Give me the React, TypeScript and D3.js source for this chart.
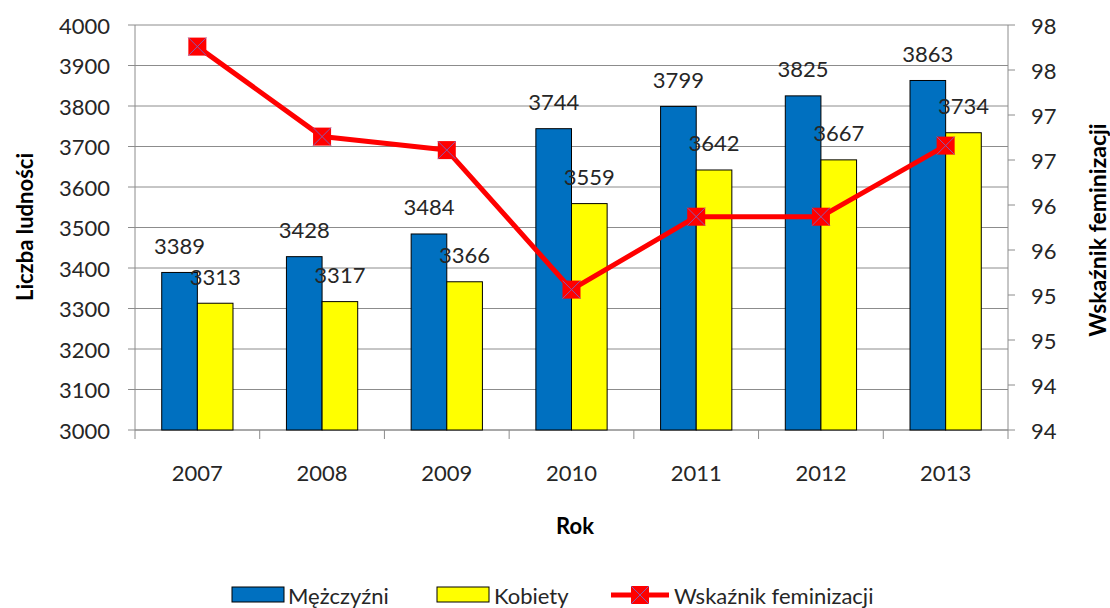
import React from 'react';
import * as d3 from 'd3';

const years = ['2007', '2008', '2009', '2010', '2011', '2012', '2013'];
const men = [3389, 3428, 3484, 3744, 3799, 3825, 3863];
const women = [3313, 3317, 3366, 3559, 3642, 3667, 3734];
const femIndex = [97.76, 96.76, 96.61, 95.06, 95.87, 95.87, 96.66];
const leftTicks = [3000, 3100, 3200, 3300, 3400, 3500, 3600, 3700, 3800, 3900, 4000];
const rightTicks = [93.5, 94, 94.5, 95, 95.5, 96, 96.5, 97, 97.5, 98];

const W = 1110;
const H = 608;
const left = 135;
const right = 1008;
const top = 25;
const bottom = 430;
const FONT = 'Lato, "Open Sans", sans-serif';
const TXT = '#262626';
const GRID = '#8c8c8c';

const App: React.FC = () => {
  const x = d3.scaleBand<string>().domain(years).range([left, right]).padding(0);
  const inner = d3.scaleBand<string>().domain(['m', 'k']).range([0, x.bandwidth()])
    .paddingInner(0).paddingOuter(0.75);
  const y = d3.scaleLinear().domain([3000, 4000]).range([bottom, top]);
  const y2 = d3.scaleLinear().domain([93.5, 98]).range([bottom, top]);

  const line = d3.line<number>()
    .x((_, i) => (x(years[i]) as number) + x.bandwidth() / 2)
    .y(d => y2(d));

  const series = [
    { key: 'm', values: men, color: '#0070C0' },
    { key: 'k', values: women, color: '#FFFF00' },
  ];

  const bounds = years.map(yr => x(yr) as number).concat([right]);
  const legY = 595;

  return (
    <svg width={W} height={H} style={{ position: 'absolute', left: 0, top: 0, background: '#fff' }}
      fontFamily={FONT}>
      {/* siatka */}
      {leftTicks.map(t => (
        <line key={'g' + t} x1={left} x2={right} y1={y(t)} y2={y(t)} stroke={GRID} strokeWidth={1} />
      ))}
      {/* osie */}
      <line x1={left} x2={left} y1={top} y2={bottom} stroke={GRID} />
      <line x1={right} x2={right} y1={top} y2={bottom} stroke={GRID} />
      <line x1={left} x2={right} y1={bottom} y2={bottom} stroke={GRID} />
      {leftTicks.map(t => (
        <g key={'l' + t}>
          <line x1={left - 7} x2={left} y1={y(t)} y2={y(t)} stroke={GRID} />
          <text x={110} y={y(t)} textAnchor="end" dominantBaseline="central" fontSize={22} fill={TXT}>{t}</text>
        </g>
      ))}
      {rightTicks.map(t => (
        <g key={'r' + t}>
          <line x1={right} x2={right + 7} y1={y2(t)} y2={y2(t)} stroke={GRID} />
          <text x={1031} y={y2(t)} textAnchor="start" dominantBaseline="central" fontSize={22} fill={TXT}>
            {Math.round(t)}
          </text>
        </g>
      ))}
      {bounds.map((b, i) => (
        <line key={'xt' + i} x1={b} x2={b} y1={bottom} y2={bottom + 9} stroke={GRID} />
      ))}
      {years.map(yr => (
        <text key={'xl' + yr} x={(x(yr) as number) + x.bandwidth() / 2} y={472} textAnchor="middle"
          dominantBaseline="central" fontSize={22} fill={TXT}>{yr}</text>
      ))}

      {/* słupki */}
      {series.map(s => (
        <g key={s.key}>
          {s.values.map((v, i) => (
            <rect key={i} x={(x(years[i]) as number) + (inner(s.key) as number)} y={y(v)}
              width={inner.bandwidth()} height={bottom - y(v)} fill={s.color} stroke="#000" strokeWidth={1} />
          ))}
        </g>
      ))}
      {series.map(s => (
        <g key={'lab' + s.key}>
          {s.values.map((v, i) => (
            <text key={i} x={(x(years[i]) as number) + (inner(s.key) as number) + inner.bandwidth() / 2}
              y={y(v) - 27} textAnchor="middle" dominantBaseline="central" fontSize={22} fill={TXT}>{v}</text>
          ))}
        </g>
      ))}

      {/* linia wskaźnika */}
      <path d={line(femIndex) || ''} fill="none" stroke="#FF0000" strokeWidth={5} strokeLinejoin="round" />
      {femIndex.map((v, i) => {
        const cx = (x(years[i]) as number) + x.bandwidth() / 2;
        const cy = y2(v);
        return (
          <g key={'mk' + i}>
            <rect x={cx - 9} y={cy - 9} width={18} height={18} fill="#FF0000" />
            <path d={`M${cx - 9},${cy - 9}L${cx + 9},${cy + 9}M${cx + 9},${cy - 9}L${cx - 9},${cy + 9}`}
              stroke="#8a5ab0" strokeWidth={1} />
          </g>
        );
      })}

      {/* tytuły osi */}
      <text transform="translate(24,227) rotate(-90)" textAnchor="middle" dominantBaseline="central"
        fontSize={22} fontWeight="bold" fill="#000">Liczba ludności</text>
      <text transform="translate(1097,230) rotate(-90)" textAnchor="middle" dominantBaseline="central"
        fontSize={23} fontWeight="bold" fill="#000">Wskaźnik feminizacji</text>
      <text x={575} y={525} textAnchor="middle" dominantBaseline="central" fontSize={22} fontWeight="bold"
        fill="#000">Rok</text>

      {/* legenda */}
      <rect x={232} y={legY - 8} width={52} height={15} fill="#0070C0" stroke="#000" />
      <text x={288} y={legY} dominantBaseline="central" fontSize={22} fill={TXT}>Mężczyźni</text>
      <rect x={437} y={legY - 8} width={52} height={15} fill="#FFFF00" stroke="#000" />
      <text x={494} y={legY} dominantBaseline="central" fontSize={22} fill={TXT}>Kobiety</text>
      <line x1={611} x2={669} y1={legY} y2={legY} stroke="#FF0000" strokeWidth={5} />
      <rect x={631} y={legY - 9} width={18} height={18} fill="#FF0000" />
      <path d={`M631,${legY - 9}L649,${legY + 9}M649,${legY - 9}L631,${legY + 9}`} stroke="#8a5ab0" strokeWidth={1} />
      <text x={674} y={legY} dominantBaseline="central" fontSize={22} fill={TXT}>Wskaźnik feminizacji</text>
    </svg>
  );
};

export default App;
